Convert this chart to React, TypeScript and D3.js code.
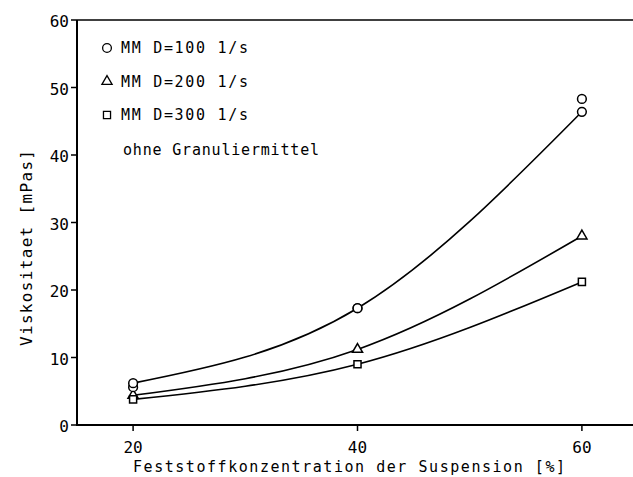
import React, { useEffect, useRef } from "react";
import * as d3 from "d3";

const width = 633;
const height = 477;

// Feststoffkonzentration [%]
const concentration = [20, 40, 60];
// Viskositaet [mPas]
const mmD100 = [6.2, 17.3, 46.4];
const mmD100Repeat = [5.6, 17.3, 48.3];
const mmD200 = [4.4, 11.2, 28.0];
const mmD300 = [3.8, 9.0, 21.2];

const xTicks = [20, 40, 60];
const yTicks = [0, 10, 20, 30, 40, 50, 60];
const legendLabels = ["MM D=100 1/s", "MM D=200 1/s", "MM D=300 1/s"];
const legendNote = "ohne Granuliermittel";
const xTitle = "Feststoffkonzentration der Suspension [%]";
const yTitle = "Viskositaet [mPas]";

const font = "'DejaVu Sans Mono', monospace";

export default function App() {
  const svgRef = useRef<SVGSVGElement>(null);

  useEffect(() => {
    const svg = d3.select(svgRef.current);
    svg.selectAll("*").remove();

    const x = d3.scaleLinear().domain([15, 65]).range([77, 638]);
    const y = d3.scaleLinear().domain([0, 60]).range([425, 20]);

    const g = svg.append("g");

    // frame: left axis, top and bottom lines
    g.append("line")
      .attr("x1", x(15)).attr("x2", width)
      .attr("y1", y(0)).attr("y2", y(0))
      .attr("stroke", "#000").attr("stroke-width", 2.2);
    g.append("line")
      .attr("x1", x(15)).attr("x2", width)
      .attr("y1", y(60)).attr("y2", y(60))
      .attr("stroke", "#000").attr("stroke-width", 1.6);
    g.append("line")
      .attr("x1", x(15)).attr("x2", x(15))
      .attr("y1", y(0) + 1).attr("y2", y(60))
      .attr("stroke", "#000").attr("stroke-width", 2);

    // y ticks
    g.selectAll(".ytick")
      .data(yTicks)
      .join("line")
      .attr("x1", x(15) - 6).attr("x2", x(15))
      .attr("y1", (d) => y(d)).attr("y2", (d) => y(d))
      .attr("stroke", "#000").attr("stroke-width", 1.5);
    g.selectAll(".ylabel")
      .data(yTicks)
      .join("text")
      .attr("x", x(15) - 8)
      .attr("y", (d) => y(d) + 7)
      .attr("text-anchor", "end")
      .attr("font-family", font)
      .attr("font-size", 16)
      .text((d) => d);

    // x ticks
    g.selectAll(".xtick")
      .data(xTicks)
      .join("line")
      .attr("x1", (d) => x(d)).attr("x2", (d) => x(d))
      .attr("y1", y(0)).attr("y2", y(0) + 6)
      .attr("stroke", "#000").attr("stroke-width", 1.5);
    g.selectAll(".xlabel")
      .data(xTicks)
      .join("text")
      .attr("x", (d) => x(d))
      .attr("y", 453)
      .attr("text-anchor", "middle")
      .attr("font-family", font)
      .attr("font-size", 16)
      .text((d) => d);

    // axis titles
    g.append("text")
      .attr("x", 133).attr("y", 472)
      .attr("font-family", font)
      .attr("font-size", 15)
      .attr("textLength", 432)
      .attr("lengthAdjust", "spacing")
      .text(xTitle);
    g.append("text")
      .attr("transform", "translate(32, 346) rotate(-90)")
      .attr("font-family", font)
      .attr("font-size", 16)
      .attr("textLength", 196)
      .attr("lengthAdjust", "spacing")
      .text(yTitle);

    // curves
    const line = d3
      .line<number>()
      .x((d, i) => x(concentration[i]))
      .y((d) => y(d))
      .curve(d3.curveNatural);

    [mmD100, mmD200, mmD300].forEach((series) => {
      g.append("path")
        .attr("d", line(series))
        .attr("fill", "none")
        .attr("stroke", "#000")
        .attr("stroke-width", 1.6);
    });

    const circle = d3.symbol().type(d3.symbolCircle).size(60);
    const triangle = d3.symbol().type(d3.symbolTriangle).size(45);
    const square = d3.symbol().type(d3.symbolSquare).size(50);

    const drawMarkers = (series: number[], shape: any) => {
      g.append("g")
        .selectAll("path")
        .data(series)
        .join("path")
        .attr("transform", (d, i) => `translate(${x(concentration[i])}, ${y(d)})`)
        .attr("d", shape())
        .attr("fill", "#fff")
        .attr("stroke", "#000")
        .attr("stroke-width", 1.5);
    };
    drawMarkers(mmD200, triangle);
    drawMarkers(mmD300, square);
    drawMarkers(mmD100Repeat, circle);
    drawMarkers(mmD100, circle);

    // legend
    const legendShapes = [circle, triangle, square];
    legendLabels.forEach((label, i) => {
      const ly = 53 + i * 33.5;
      g.append("path")
        .attr("transform", `translate(107, ${ly - 5})`)
        .attr("d", legendShapes[i]())
        .attr("fill", "#fff")
        .attr("stroke", "#000")
        .attr("stroke-width", 1.3);
      g.append("text")
        .attr("x", 121).attr("y", ly)
        .attr("font-family", font)
        .attr("font-size", 15)
        .attr("textLength", 127)
        .attr("lengthAdjust", "spacing")
        .text(label);
    });
    g.append("text")
      .attr("x", 123).attr("y", 155)
      .attr("font-family", font)
      .attr("font-size", 15)
      .attr("textLength", 196)
      .attr("lengthAdjust", "spacing")
      .text(legendNote);
  }, []);

  return (
    <svg
      ref={svgRef}
      width={width}
      height={height}
      style={{ position: "absolute", left: 0, top: 0, background: "#fff" }}
    />
  );
}
